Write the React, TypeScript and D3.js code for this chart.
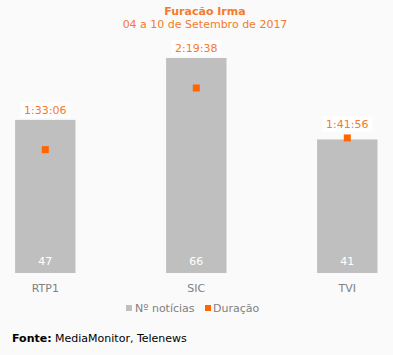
import React from "react";
import * as d3 from "d3";

const categories = ["RTP1", "SIC", "TVI"];
const noticias = [47, 66, 41];
const duracaoLabels = ["1:33:06", "2:19:38", "1:41:56"];
const duracaoSeconds = [5586, 8378, 6116];

const W = 393;
const H = 355;
const FONT = "Verdana, 'DejaVu Sans', sans-serif";
const ORANGE = "#FF6600";
const ORANGE_TXT = "#F57A2A";
const GRAY = "#BFBFBF";

export default function App() {
  const x = d3.scaleBand<string>().domain(categories).range([0, 392.6]).paddingInner(0.6).paddingOuter(0.1);
  const baseY = 273;
  const y = d3.scaleLinear().domain([0, 66]).range([baseY, 58]);
  const y2 = d3.scaleLinear().domain([0, 8378]).range([baseY, 88]);
  const bw = x.bandwidth();
  return (
    <svg width={W} height={H} style={{ position: "absolute", left: 0, top: 0, background: "#FAFAFA", fontFamily: FONT }}>
      <rect x={0} y={0} width={W} height={H} fill="#FAFAFA" />
      <text x={205} y={15} textAnchor="middle" fontSize={11} fontWeight="bold" fill={ORANGE_TXT}>Furacão Irma</text>
      <text x={205} y={28} textAnchor="middle" fontSize={11} fill={ORANGE_TXT}>04 a 10 de Setembro de 2017</text>
      {categories.map((c, i) => {
        const x0 = x(c)!;
        const cx = x0 + bw / 2;
        const top = Math.min(y(noticias[i]), y2(duracaoSeconds[i]) - 4);
        const labelY = top - 9;
        return (
          <g key={c}>
            <rect x={x0} y={y(noticias[i])} width={bw} height={baseY - y(noticias[i])} fill={GRAY} />
            <rect x={cx - 3.5} y={y2(duracaoSeconds[i]) - 3.5} width={7} height={7} fill={ORANGE} />
            <rect x={cx - 25} y={labelY - 9} width={50} height={16} fill="#FFFFFF" opacity={0.7} />
            <text x={cx} y={labelY + 3} textAnchor="middle" fontSize={11} fill={ORANGE_TXT}>{duracaoLabels[i]}</text>
            <text x={cx} y={265} textAnchor="middle" fontSize={11} fill="#FFFFFF">{noticias[i]}</text>
            <text x={cx} y={292} textAnchor="middle" fontSize={11} fill="#808080">{c}</text>
          </g>
        );
      })}
      <rect x={126} y={305} width={6} height={6} fill={GRAY} />
      <text x={135} y={312} fontSize={11} fill="#808080">Nº notícias</text>
      <rect x={205} y={305} width={6} height={6} fill={ORANGE} />
      <text x={213} y={312} fontSize={11} fill="#808080">Duração</text>
      <text x={12} y={342} fontSize={11} fill="#000000">
        <tspan fontWeight="bold">Fonte:</tspan> MediaMonitor, Telenews
      </text>
    </svg>
  );
}
